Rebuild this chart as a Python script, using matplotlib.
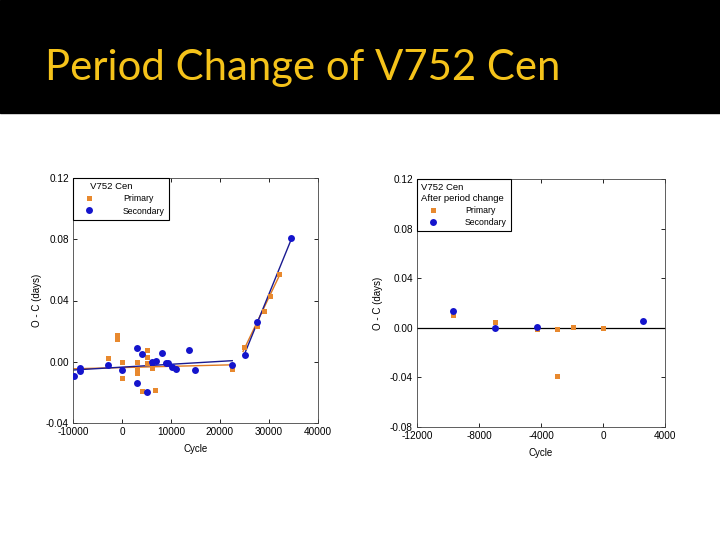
import matplotlib
matplotlib.use("Agg")
import matplotlib.pyplot as plt
import numpy as np
from matplotlib.patches import Rectangle

plt.rcParams['font.family'] = ['Liberation Sans', 'DejaVu Sans']
plt.rcParams['axes.unicode_minus'] = False

# left panel: full O-C history
prim_cycle = [-2857, -1020, -1020, 0, 0, 3061, 3061, 3061, 5100, 5100, 5100, 4150, 6190, 6735,
              22380, 24966, 27550, 28911, 30136, 31973]
prim_oc = [0.0022, 0.0172, 0.0150, 0.0000, -0.0109, -0.0004, -0.0048, -0.0074, 0.0078, 0.0030, -0.0010,
           -0.0194, -0.0044, -0.0183, -0.0048, 0.0096, 0.0235, 0.0333, 0.0431, 0.0570]
sec_cycle = [-9864, -8640, -8640, -2857, 0, 3061, 3061, 4150, 5100, 6190, 7000, 8095, 9050, 9320,
             10136, 11088, 13673, 14898, 22380, 25100, 27619, 34558]
sec_oc = [-0.0096, -0.0044, -0.0060, -0.0022, -0.0052, 0.0087, -0.0139, 0.0048, -0.0198, -0.0004,
          0.0007, 0.0054, -0.0010, -0.0010, -0.0035, -0.0046, 0.0080, -0.0052, -0.0024, 0.0044,
          0.0257, 0.0810]

# linear ephemeris fits (before / after the period change), endpoints
prim_fit1_cycle = [-10000, 22500]
prim_fit1_oc = [-0.0046, -0.0020]
sec_fit1_cycle = [-10000, 22500]
sec_fit1_oc = [-0.0054, 0.0007]
prim_fit2_cycle = [24700, 32300]
prim_fit2_oc = [0.0067, 0.0575]
sec_fit2_cycle = [25000, 34700]
sec_fit2_oc = [0.0050, 0.0812]

# right panel: after period change
prim2_cycle = [-9653, -6983, -4248, -3000, -3000, -1923, 0]
prim2_oc = [0.0105, 0.0048, -0.0010, -0.0010, -0.0390, 0.0008, 0.0000]
sec2_cycle = [-9653, -6983, -4248, 2578]
sec2_oc = [0.0132, 0.0000, 0.0005, 0.0051]

orange = '#E8892E'
blue = '#1414CC'
orange_line = '#E07A20'
blue_line = '#1A1A90'

fig = plt.figure(figsize=(7.2, 5.4), dpi=100)
fig.patch.set_facecolor('white')
fig.patches.append(Rectangle((0, 1 - 113/540), 1, 113/540, transform=fig.transFigure,
                             color='black', zorder=0))
fig.text(45/720, 1 - 80/540, 'Period Change of V752 Cen', color='#F5C31A', fontsize=30.2,
         family=['Lato', 'DejaVu Sans'], va='baseline', ha='left')


def style(ax):
    ax.tick_params(direction='in', length=3, width=0.6, labelsize=7.2, top=True, right=True, pad=3)
    for s in ax.spines.values():
        s.set_linewidth(0.6)
        s.set_color('#444444')


ax1 = fig.add_axes([73/720, 1 - 423/540, 245/720, 245/540])
style(ax1)
ax1.plot(prim_fit1_cycle, prim_fit1_oc, color=orange_line, lw=1.0, zorder=2)
ax1.plot(sec_fit1_cycle, sec_fit1_oc, color=blue_line, lw=1.0, zorder=2)
ax1.plot(prim_fit2_cycle, prim_fit2_oc, color=orange_line, lw=1.0, zorder=2)
ax1.plot(sec_fit2_cycle, sec_fit2_oc, color=blue_line, lw=1.0, zorder=2)
ax1.plot(prim_cycle, prim_oc, 's', color=orange, ms=3.6, mew=0, label='Primary', zorder=3)
ax1.plot(sec_cycle, sec_oc, 'o', color=blue, ms=5, mew=0, label='Secondary', zorder=4)
ax1.set_xlim(-10000, 40000)
ax1.set_ylim(-0.04, 0.12)
ax1.set_xticks([-10000, 0, 10000, 20000, 30000, 40000])
ax1.set_yticks([-0.04, 0.00, 0.04, 0.08, 0.12])
ax1.set_yticklabels(['-0.04', '0.00', '0.04', '0.08', '0.12'])
ax1.set_xlabel('Cycle', fontsize=7, labelpad=5)
ax1.set_ylabel('O - C (days)', fontsize=7, labelpad=3)
leg1 = ax1.legend(loc='upper left', title='     V752 Cen', fontsize=6.3, title_fontsize=6.8,
                  alignment='left', frameon=True, fancybox=False, framealpha=1,
                  edgecolor='black', borderaxespad=0, handletextpad=2.6, handlelength=2.6,
                  borderpad=0.5, labelspacing=0.35)
leg1.get_frame().set_linewidth(0.8)

ax2 = fig.add_axes([417/720, 1 - 427/540, 248/720, 248/540])
style(ax2)
ax2.axhline(0, color='black', lw=0.9, zorder=1)
ax2.plot(prim2_cycle, prim2_oc, 's', color=orange, ms=3.6, mew=0, label='Primary', zorder=3)
ax2.plot(sec2_cycle, sec2_oc, 'o', color=blue, ms=5, mew=0, label='Secondary', zorder=4)
ax2.set_xlim(-12000, 4000)
ax2.set_ylim(-0.08, 0.12)
ax2.set_xticks([-12000, -8000, -4000, 0, 4000])
ax2.set_yticks([-0.08, -0.04, 0.00, 0.04, 0.08, 0.12])
ax2.set_yticklabels(['-0.08', '-0.04', '0.00', '0.04', '0.08', '0.12'])
ax2.set_xlabel('Cycle', fontsize=7, labelpad=5)
ax2.set_ylabel('O - C (days)', fontsize=7, labelpad=5)
leg2 = ax2.legend(loc='upper left', title='V752 Cen\nAfter period change', fontsize=6.3,
                  title_fontsize=6.8, alignment='left', frameon=True, fancybox=False,
                  framealpha=1, edgecolor='black', borderaxespad=0, handletextpad=2.4,
                  handlelength=2.6, borderpad=0.5, labelspacing=0.35)
leg2.get_frame().set_linewidth(0.8)

fig.savefig('out.png', dpi=100, facecolor='white')
